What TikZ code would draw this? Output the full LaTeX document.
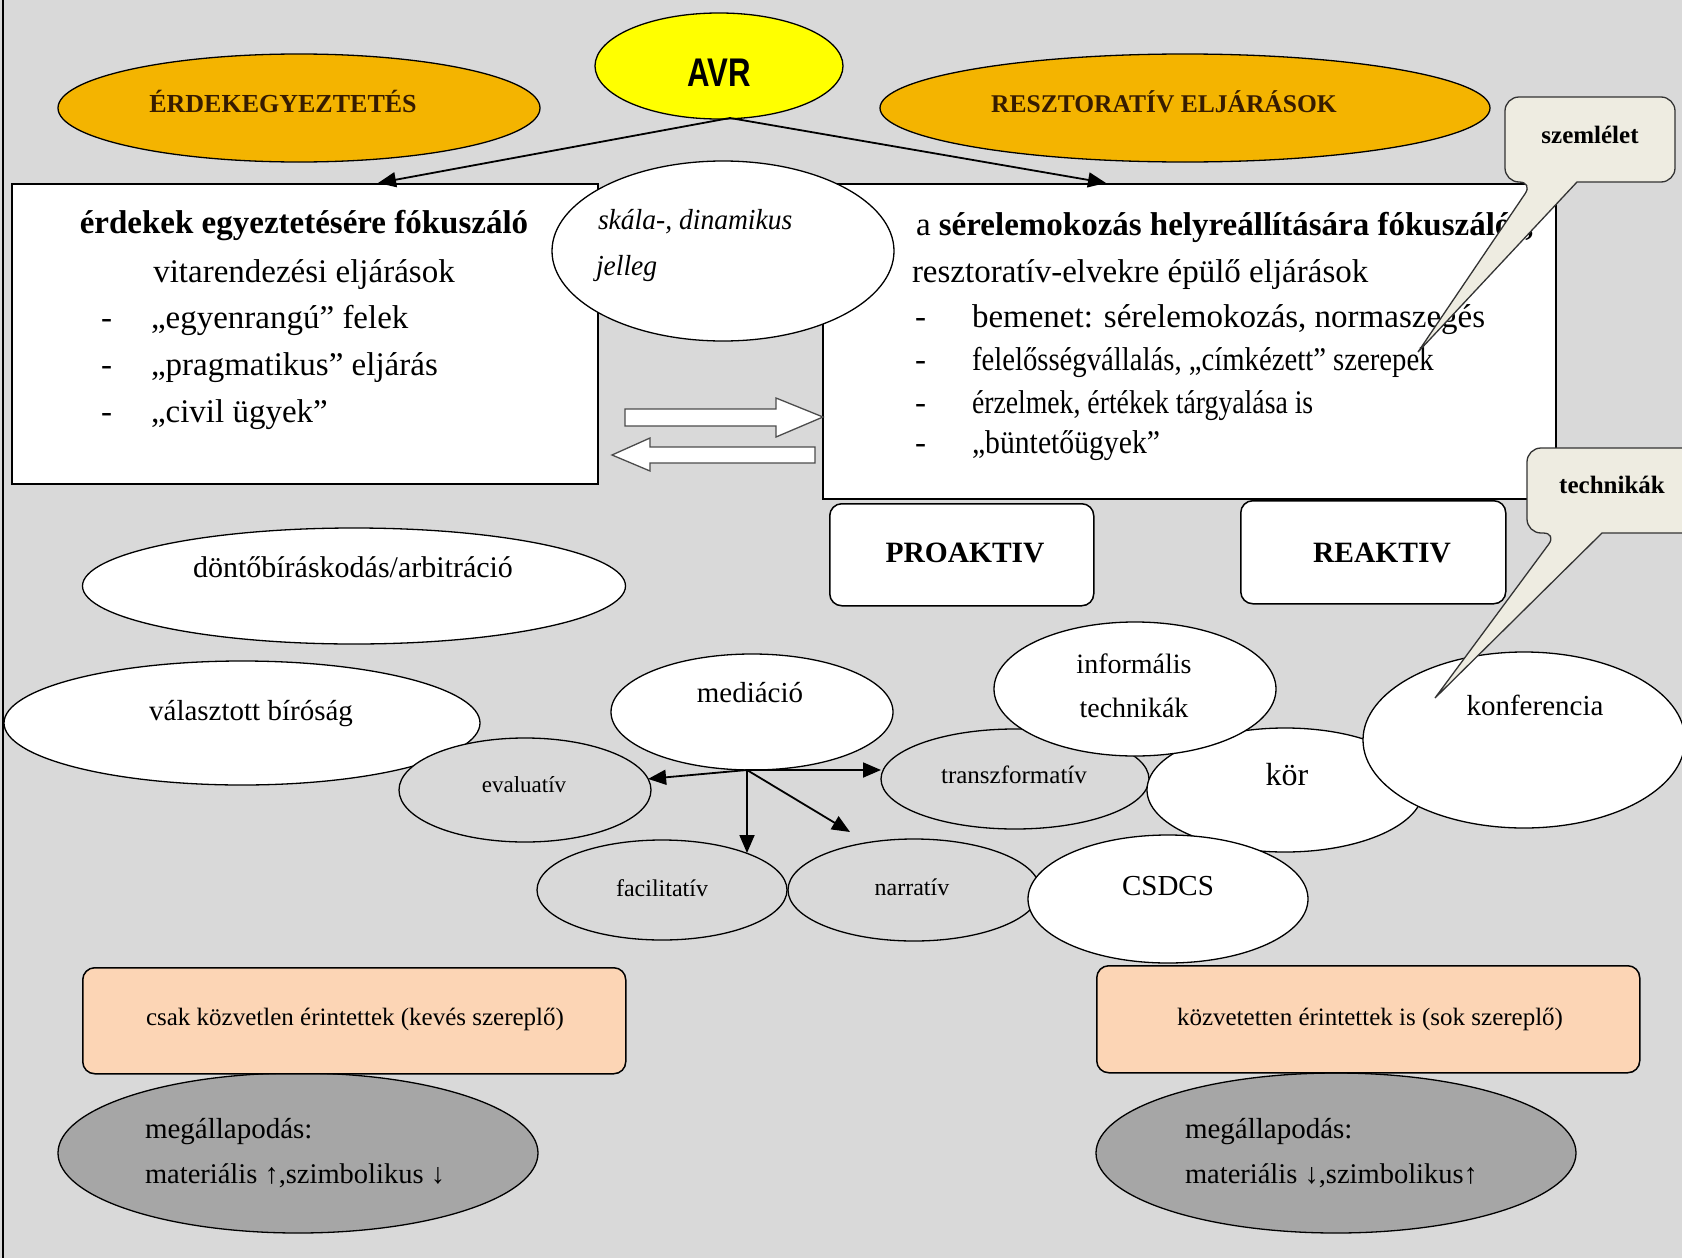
\documentclass[tikz,border=0pt]{standalone}
\usepackage{fontspec}
\usepackage{graphicx}
\setmainfont{Liberation Serif}
\newfontfamily\avrfont{Liberation Sans}
\usetikzlibrary{shapes.geometric,arrows.meta}
\definecolor{bggray}{RGB}{217,217,217}
\definecolor{gold}{RGB}{244,180,0}
\definecolor{avryellow}{RGB}{255,255,0}
\definecolor{peach}{RGB}{252,213,181}
\definecolor{darkgr}{RGB}{166,166,166}
\definecolor{beige}{RGB}{238,236,225}
\definecolor{brownt}{RGB}{55,28,0}
\newcommand\myfs[1]{\fontsize{#1}{#1}\selectfont}
\begin{document}
\begin{tikzpicture}[x=1pt,y=-1pt,
 ell/.style={ellipse,draw=black,line width=1.3pt,inner sep=0pt,outer sep=0pt},
 wbox/.style={rectangle,draw=black,line width=1.8pt,fill=white,inner sep=0pt,anchor=north west},
 rbox/.style={rectangle,rounded corners=12pt,draw=black,line width=1.5pt,inner sep=0pt,anchor=north west},
 txt/.style={inner sep=0pt,outer sep=0pt,anchor=base},
 ltxt/.style={inner sep=0pt,outer sep=0pt,anchor=base west},
 conn/.style={line width=1.8pt,-{Triangle[length=18pt,width=15pt]}},
 blockarrow/.style={draw=black!70,line width=1.3pt,fill=white},
 callout/.style={draw=black!80,line width=1.3pt,fill=beige},
]
\useasboundingbox (0,0) rectangle (1682,1258);
\clip (0,0) rectangle (1682,1258);
\fill[bggray] (0,0) rectangle (1682,1258);
\draw[line width=1.2pt] (3,0) -- (3,1258);

% top ellipses
\node[ell,fill=gold,minimum width=482pt,minimum height=108pt] (erd) at (299,108) {};
\node[txt,text=brownt] (erdt) at (283,112) {\myfs{26}\bfseries ÉRDEKEGYEZTETÉS};
\node[ell,fill=avryellow,minimum width=248pt,minimum height=106pt] (avr) at (719,66) {};
\node[txt] (avrt) at (719,86) {\avrfont\bfseries\myfs{40}\scalebox{0.78}[1]{AVR}};
\node[ell,fill=gold,minimum width=610pt,minimum height=108pt] (resz) at (1185,108) {};
\node[txt,text=brownt] (reszt) at (1164,112) {\myfs{25.5}\bfseries RESZTORATÍV ELJÁRÁSOK};

% main boxes
\node[wbox,minimum width=586pt,minimum height=300pt] (lbox) at (11,183) {};
\node[wbox,minimum width=733pt,minimum height=315pt] (rbox) at (822,183) {};

% AVR arrows
\coordinate (avrfoot) at (730,118);
\coordinate (ltip) at (378,183);
\coordinate (rtip) at (1106,183);
\draw[conn] (avrfoot) -- (ltip);
\draw[conn] (avrfoot) -- (rtip);

% left box text
\node[txt] (l1) at (304,233) {\myfs{33}\bfseries érdekek egyeztetésére fókuszáló};
\node[txt] (l2) at (304,282) {\myfs{33}vitarendezési eljárások};
\node[ltxt] (l3d) at (101,328) {\myfs{33}-};
\node[ltxt] (l3) at (151,328) {\myfs{33}„egyenrangú” felek};
\node[ltxt] (l4d) at (101,375) {\myfs{33}-};
\node[ltxt] (l4) at (151,375) {\myfs{33}„pragmatikus” eljárás};
\node[ltxt] (l5d) at (101,422) {\myfs{33}-};
\node[ltxt] (l5) at (151,422) {\myfs{33}„civil ügyek”};

% right box text
\node[ltxt] (r1) at (916,235) {\myfs{33}a \bfseries sérelemokozás helyreállítására fókuszáló\kern14pt,};
\node[ltxt] (r2) at (912,282) {\myfs{33}resztoratív-elvekre épülő eljárások};
\node[ltxt] (r3d) at (915,327) {\myfs{33}-};
\node[ltxt] (r3) at (972,327) {\myfs{33}bemenet: sérelemokozás, normaszegés};
\node[ltxt] (r4d) at (915,370) {\myfs{33}-};
\node[ltxt] (r4) at (972,370) {\myfs{33}\scalebox{0.87}[1]{felelősségvállalás, „címkézett” szerepek}};
\node[ltxt] (r5d) at (915,413) {\myfs{33}-};
\node[ltxt] (r5) at (972,413) {\myfs{33}\scalebox{0.84}[1]{érzelmek, értékek tárgyalása is}};
\node[ltxt] (r6d) at (915,453) {\myfs{33}-};
\node[ltxt] (r6) at (972,453) {\myfs{33}\scalebox{0.9}[1]{„büntetőügyek”}};

% skala ellipse
\node[ell,fill=white,minimum width=342pt,minimum height=180pt] (skala) at (723,251) {};
\node[ltxt] (sk1) at (598,229) {\myfs{29}\itshape\scalebox{0.95}[1]{skála-, dinamikus}};
\node[ltxt] (sk2) at (596,275) {\myfs{29}\itshape\scalebox{0.95}[1]{jelleg}};

% block arrows
\draw[blockarrow] (625,409) -- (776,409) -- (776,398) -- (823,417) -- (776,437) -- (776,426) -- (625,426) -- cycle;
\draw[blockarrow] (815,447) -- (650,447) -- (650,438) -- (612,455) -- (650,471) -- (650,463) -- (815,463) -- cycle;

% szemlelet callout
\draw[callout] (1533,182) -- (1418,352) -- (1577,182) [rounded corners=14pt] -- (1675,182) -- (1675,97) -- (1505,97) -- (1505,182) -- cycle;
\node[txt] (szt) at (1590,143) {\myfs{25}\bfseries szemlélet};

% proaktiv / reaktiv
\node[rbox,fill=white,minimum width=264pt,minimum height=102pt] (pro) at (829,503) {};
\node[txt] (prot) at (965,562) {\myfs{29.5}\bfseries PROAKTIV};
\node[rbox,fill=white,minimum width=265pt,minimum height=103pt] (rea) at (1240,500) {};
\node[txt] (reat) at (1382,562) {\myfs{29.5}\bfseries REAKTIV};

% lower ellipses
\node[ell,fill=white,minimum width=543pt,minimum height=116pt] (dont) at (354,586) {};
\node[txt] (dontt) at (353,577) {\myfs{30}döntőbíráskodás/arbitráció};
\node[ell,fill=white,minimum width=476pt,minimum height=124pt] (valasz) at (242,723) {};
\node[txt] (valaszt) at (251,720) {\myfs{29}választott bíróság};
\node[ell,fill=bggray,minimum width=252pt,minimum height=104pt] (eval) at (525,790) {};
\node[txt] (evalt) at (524,792) {\myfs{23}evaluatív};
\node[ell,fill=white,minimum width=282pt,minimum height=116pt] (med) at (752,712) {};
\node[txt] (medt) at (750,702) {\myfs{29}mediáció};
\node[ell,fill=bggray,minimum width=250pt,minimum height=100pt] (facil) at (662,890) {};
\node[txt] (facilt) at (662,896) {\myfs{24}facilitatív};
\node[ell,fill=bggray,minimum width=252pt,minimum height=102pt] (narr) at (914,890) {};
\node[txt] (narrt) at (912,895) {\myfs{24}narratív};
\node[ell,fill=bggray,minimum width=268pt,minimum height=100pt] (transz) at (1015,779) {};
\node[txt] (transzt) at (1014,783) {\myfs{25}transzformatív};
\node[ell,fill=white,minimum width=276pt,minimum height=124pt] (kor) at (1285,790) {};
\node[txt] (kort) at (1287,785) {\myfs{32}kör};
\node[ell,fill=white,minimum width=282pt,minimum height=134pt] (inf) at (1135,689) {};
\node[txt] (inft1) at (1134,673) {\myfs{28}informális};
\node[txt] (inft2) at (1134,717) {\myfs{28}technikák};
\node[ell,fill=white,minimum width=280pt,minimum height=128pt] (csdcs) at (1168,899) {};
\node[txt] (csdcst) at (1168,895) {\myfs{29}CSDCS};
\node[ell,fill=white,minimum width=322pt,minimum height=176pt] (konf) at (1524,740) {};
\node[txt] (konft) at (1535,715) {\myfs{29}konferencia};

% mediacio arrows
\coordinate (medfoot) at (747,770);
\coordinate (facilfoot) at (747,853);
\coordinate (diagtip) at (850,832);
\draw[conn] (medfoot) -- (eval);
\draw[conn] (medfoot) -- (medfoot -| transz.west);
\draw[conn] (medfoot) -- (facilfoot);
\draw[conn] (medfoot) -- (diagtip);

% technikak callout
\draw[callout] (1557,533) -- (1435,698) -- (1602,533) [rounded corners=14pt] -- (1700,533) -- (1700,448) -- (1527,448) -- (1527,533) -- cycle;
\node[txt] (techt) at (1612,493) {\myfs{25}\bfseries technikák};

% bottom
\node[ell,fill=darkgr,minimum width=480pt,minimum height=160pt] (meg1) at (298,1153) {};
\node[ltxt] (meg1a) at (145,1138) {\myfs{29}megállapodás:};
\node[ltxt] (meg1b) at (145,1183) {\myfs{28.5}materiális ↑,szimbolikus ↓};
\node[ell,fill=darkgr,minimum width=480pt,minimum height=160pt] (meg2) at (1336,1153) {};
\node[ltxt] (meg2a) at (1185,1138) {\myfs{29}megállapodás:};
\node[ltxt] (meg2b) at (1185,1183) {\myfs{28.5}materiális ↓,szimbolikus↑};
\node[rbox,fill=peach,minimum width=543pt,minimum height=106pt] (csak) at (82,967) {};
\node[txt] (csakt) at (355,1025) {\myfs{25}csak közvetlen érintettek (kevés szereplő)};
\node[rbox,fill=peach,minimum width=543pt,minimum height=107pt] (kozv) at (1096,965) {};
\node[txt] (kozvt) at (1370,1025) {\myfs{25}közvetetten érintettek is (sok szereplő)};
\end{tikzpicture}
\end{document}
